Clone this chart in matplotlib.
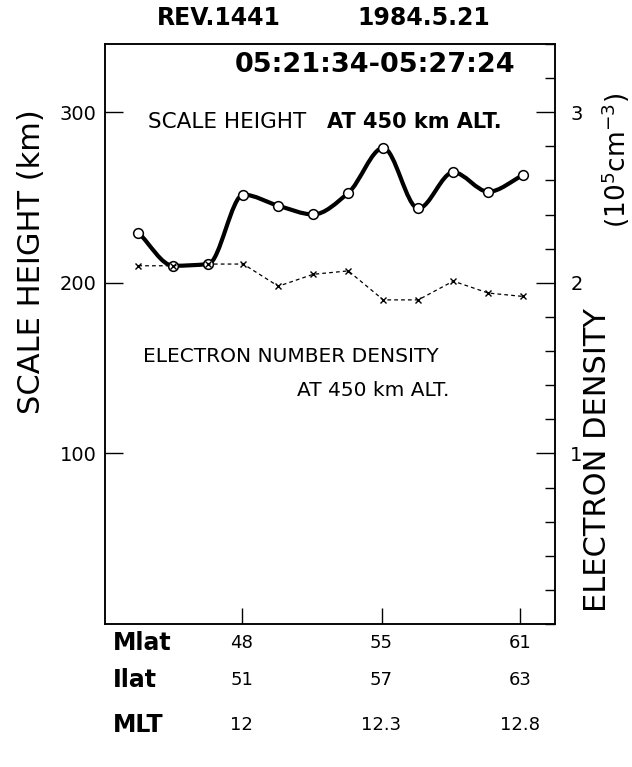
import numpy as np
import matplotlib
matplotlib.use('Agg')
import matplotlib.pyplot as plt
from matplotlib.path import Path
from matplotlib.patches import PathPatch
from matplotlib.ticker import FixedLocator, MultipleLocator

# ---------------- data ----------------
sample_index = np.arange(12)
scale_height_km = [229.5, 210.0, 211.0, 251.7, 245.2, 240.1,
                   252.7, 279.1, 243.6, 264.8, 253.4, 263.2]
electron_density = [2.10, 2.10, 2.11, 2.11, 1.98, 2.05,
                    2.07, 1.90, 1.90, 2.01, 1.94, 1.92]   # 1e5 cm^-3

tick_index = [2.95, 6.95, 10.9]
mlat_labels = ['48', '55', '61']
ilat_labels = ['51', '57', '63']
mlt_labels = ['12', '12.3', '12.8']
left_ticks = [100, 200, 300]
right_ticks = [1, 2, 3]

plt.rcParams['font.family'] = ['DejaVu Sans']

W, H = 632, 767
fig = plt.figure(figsize=(W / 100, H / 100), dpi=100)
ax_l, ax_r, ax_t, ax_b = 105, 555, 44, 624
ax = fig.add_axes([ax_l / W, 1 - ax_b / H, (ax_r - ax_l) / W, (ax_b - ax_t) / H])
ax.set_xlim(-0.951, 11.906)
ax.set_ylim(0, 340)

for s in ax.spines.values():
    s.set_linewidth(1.1)

# smooth scale-height curve: monotone cubic (PCHIP tangents) -> cubic Bezier Path
x = np.asarray(sample_index, float)
y = np.asarray(scale_height_km, float)
h = np.diff(x)
d = np.diff(y) / h
m = np.zeros_like(y)
for i in range(1, len(y) - 1):
    if d[i - 1] * d[i] > 0:
        w1 = 2 * h[i] + h[i - 1]
        w2 = h[i] + 2 * h[i - 1]
        m[i] = (w1 + w2) / (w1 / d[i - 1] + w2 / d[i])
m[0] = d[0]
m[-1] = d[-1]
verts = [(x[0], y[0])]
codes = [Path.MOVETO]
for i in range(len(x) - 1):
    c1 = (x[i] + h[i] / 3, y[i] + m[i] * h[i] / 3)
    c2 = (x[i + 1] - h[i] / 3, y[i + 1] - m[i + 1] * h[i] / 3)
    verts += [c1, c2, (x[i + 1], y[i + 1])]
    codes += [Path.CURVE4] * 3
ax.add_patch(PathPatch(Path(verts, codes), facecolor='none', edgecolor='black',
                       lw=3.0, zorder=3, capstyle='round', joinstyle='round'))
ax.plot(x, y, ls='none', marker='o', ms=7, mfc='white', mec='black', mew=1.1, zorder=4)

# electron density (right axis, 1 unit = 100 km on left)
ax2 = ax.twinx()
ax2.set_ylim(0, 3.4)
ax2.plot(x, electron_density, color='black', lw=0.9, ls=(0, (3, 2.5)),
         marker='x', ms=5, mew=1.0, zorder=3)

# ticks
ax.yaxis.set_major_locator(FixedLocator(left_ticks))
ax.tick_params(axis='y', direction='in', length=13, width=1.0, labelsize=14, pad=6)
ax.xaxis.set_major_locator(FixedLocator(tick_index))
ax.tick_params(axis='x', direction='in', length=11.5, width=1.0, labelbottom=False)
ax2.yaxis.set_major_locator(FixedLocator(right_ticks))
ax2.yaxis.set_minor_locator(MultipleLocator(0.2))
ax2.tick_params(axis='y', which='major', direction='in', length=13.5, width=1.0,
                labelsize=14, pad=11)
ax2.tick_params(axis='y', which='minor', direction='in', length=7, width=1.0)
for s in ax2.spines.values():
    s.set_linewidth(1.1)

# bottom coordinate rows
tr = ax.get_xaxis_transform()
rows = [('Mlat', mlat_labels, -0.033), ('Ilat', ilat_labels, -0.097), ('MLT', mlt_labels, -0.174)]
for name, labs, yy in rows:
    ax.text(0.018, yy, name, transform=ax.transAxes, ha='left', va='center',
            fontsize=17, fontweight='bold')
    for xi, lab in zip(tick_index, labs):
        ax.text(xi, yy, lab, transform=tr, ha='center', va='center', fontsize=13)

# titles
fig.text(218.5 / W, 1 - 18 / H, 'REV.1441', ha='center', va='center', fontsize=17, fontweight='bold')
fig.text(423.5 / W, 1 - 18 / H, '1984.5.21', ha='center', va='center', fontsize=17, fontweight='bold')
fig.text(375 / W, 1 - 65 / H, '05:21:34-05:27:24', ha='center', va='center', fontsize=19.5, fontweight='bold')

# annotations
fig.text(148 / W, 1 - 122 / H, 'SCALE HEIGHT', ha='left', va='center', fontsize=15.5)
fig.text(327 / W, 1 - 122 / H, 'AT 450 km ALT.', ha='left', va='center', fontsize=15, fontweight='bold')
fig.text(143 / W, 1 - 357 / H, 'ELECTRON NUMBER DENSITY', ha='left', va='center', fontsize=14.5)
fig.text(297 / W, 1 - 391 / H, 'AT 450 km ALT.', ha='left', va='center', fontsize=14.5)

# axis labels
fig.text(32 / W, 1 - 262 / H, 'SCALE HEIGHT (km)', rotation=90, ha='center', va='center', fontsize=22)
fig.text(597 / W, 1 - 460 / H, 'ELECTRON DENSITY', rotation=90, ha='center', va='center', fontsize=22)
fig.text(616 / W, 1 - 160 / H, r'(10$^5$cm$^{-3}$)', rotation=90, ha='center', va='center', fontsize=19)

fig.savefig('out.png', dpi=100)
